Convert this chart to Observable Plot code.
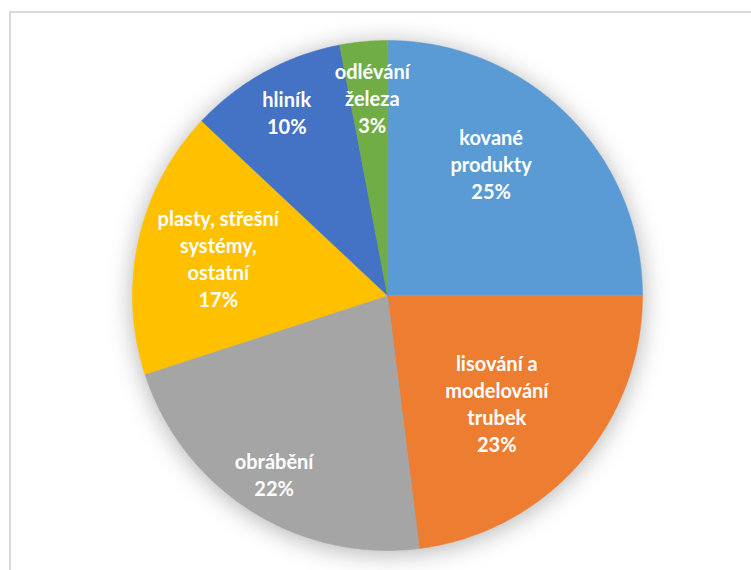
<!DOCTYPE html>
<html><head><meta charset="utf-8">
<script src="https://cdn.jsdelivr.net/npm/d3@7"></script>
<script src="https://cdn.jsdelivr.net/npm/@observablehq/plot@0.6"></script>
<style>
body{margin:0;background:#fff;overflow:hidden}
#wrap{position:relative;width:751px;height:570px;overflow:hidden}
#frame{position:absolute;left:9px;top:11px;width:800px;height:600px;border:2px solid #d9d9d9;box-sizing:border-box}
#chart{position:absolute;left:0;top:0}
</style></head><body><div id="wrap"><div id="frame"></div><div id="chart"></div></div>
<script>
// Data
const categories = ["kované produkty", "lisování a modelování trubek", "obrábění", "plasty, střešní systémy, ostatní", "hliník", "odlévání železa"];
const labelText = ["kované\nprodukty", "lisování a\nmodelování\ntrubek", "obrábění", "plasty, střešní\nsystémy,\nostatní", "hliník", "odlévání\nželeza"];
const shares = [25, 23, 22, 17, 10, 3];
const colors = ["#5B9BD5", "#ED7D31", "#A5A5A5", "#FFC000", "#4472C4", "#70AD47"];

// Label layout (best-fit placement inside slices)
const labelRadius = [0.66, 0.60, 0.83, 0.68, 0.82, 0.78];
const labelAngleShift = [-7, 3, 0, 0, 0, 1];

const total = d3.sum(shares);
const slicePts = [];
const labels = [];
let acc = 0;
shares.forEach((v, i) => {
  const a0 = acc / total * 2 * Math.PI;
  acc += v;
  const a1 = acc / total * 2 * Math.PI;
  slicePts.push({name: categories[i], x: 0, y: 0});
  const n = Math.max(2, Math.ceil((a1 - a0) / (Math.PI / 360)));
  for (let k = 0; k <= n; k++) {
    const a = a0 + (a1 - a0) * k / n;
    slicePts.push({name: categories[i], x: Math.sin(a), y: Math.cos(a)});
  }
  const am = (a0 + a1) / 2 + labelAngleShift[i] * Math.PI / 180;
  labels.push({
    name: categories[i],
    text: labelText[i] + "\n" + Math.round(v / total * 100) + "%",
    x: labelRadius[i] * Math.sin(am),
    y: labelRadius[i] * Math.cos(am)
  });
});

const chart = Plot.plot({
  width: 751,
  height: 570,
  marginLeft: 132,
  marginRight: 109,
  marginTop: 40,
  marginBottom: 20,
  x: {domain: [-1, 1], axis: null},
  y: {domain: [-1, 1], axis: null},
  color: {domain: categories, range: colors},
  marks: [
    Plot.line(slicePts, {x: "x", y: "y", z: "name", fill: "name", stroke: "name", strokeWidth: 0.5, curve: "linear-closed"}),
    Plot.text(labels, {x: "x", y: "y", text: "text", fill: "white", fontWeight: "bold", fontSize: 20, fontFamily: "Lato, 'Open Sans', sans-serif", lineHeight: 1.35, textAnchor: "middle"})
  ]
});
const g = chart.querySelector('g[aria-label="line"]');
if (g) g.style.filter = "drop-shadow(0px 3px 12px rgba(0,0,0,0.3))";
document.getElementById("chart").appendChild(chart);
</script>
</body></html>
